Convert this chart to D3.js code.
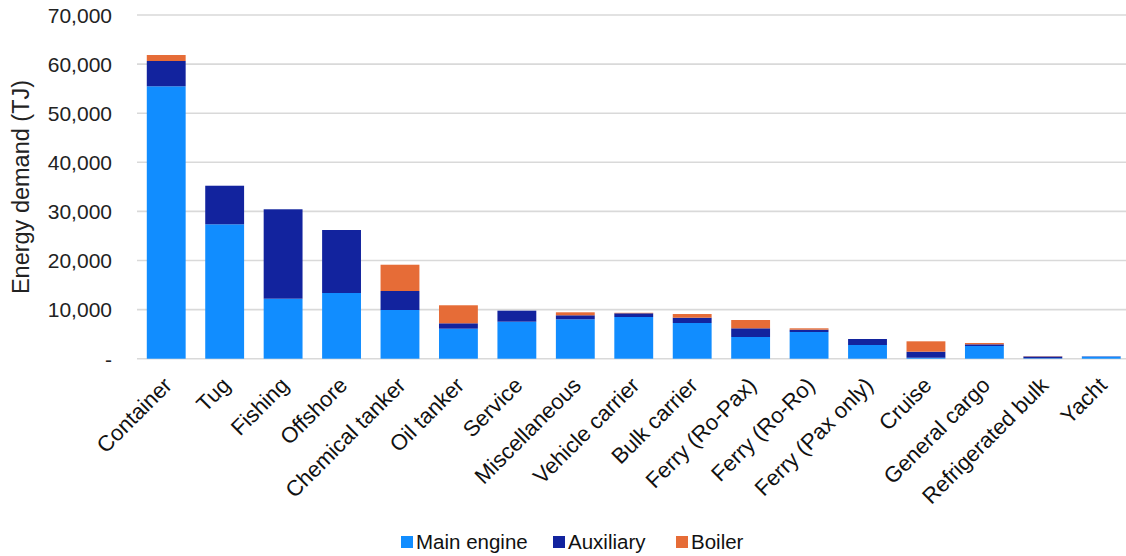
<!DOCTYPE html>
<html><head><meta charset="utf-8">
<script src="https://cdn.jsdelivr.net/npm/d3@7"></script>
<style>
html,body{margin:0;padding:0;background:#fff;}
svg{display:block;font-family:"Liberation Sans",Arial,sans-serif;}
</style></head>
<body><svg id="c" width="1126" height="556"></svg>
<script>
const categories = ["Container","Tug","Fishing","Offshore","Chemical tanker","Oil tanker","Service","Miscellaneous","Vehicle carrier","Bulk carrier","Ferry (Ro-Pax)","Ferry (Ro-Ro)","Ferry (Pax only)","Cruise","General cargo","Refrigerated bulk","Yacht"];
const mainEngine = [55480,27370,12220,13380,9920,6110,7540,8020,8490,7270,4420,5440,2790,200,2590,100,420];
const auxiliary  = [5150,7860,18210,12830,3870,1100,2240,820,760,1080,1770,470,1220,1230,340,350,60];
const boiler     = [1220,0,0,0,5350,3670,0,610,100,750,1690,280,0,2110,270,60,0];
const seriesNames = ["Main engine","Auxiliary","Boiler"];
const yTicks = [0,10000,20000,30000,40000,50000,60000,70000];

const colors = ["#118DFF","#12239E","#E66C37"];
const svg = d3.select("#c");
const x = d3.scaleBand().domain(categories).range([137,1130.5]).paddingInner(0.335).paddingOuter(0.1675);
const y = d3.scaleLinear().domain([0,70000]).range([358.7,15]);

// gridlines
svg.append("g").selectAll("line").data(yTicks).join("line")
  .attr("x1",137).attr("x2",1126)
  .attr("y1",d=>y(d)).attr("y2",d=>y(d))
  .attr("stroke","#d9d9d9").attr("stroke-width",1.6);

// y axis labels
const yAxis = d3.axisLeft(y).tickValues(yTicks).tickSize(0).tickPadding(0)
  .tickFormat(d=> d===0 ? "-" : d3.format(",")(d));
const ya = svg.append("g").attr("transform","translate(112,0)").call(yAxis);
ya.select(".domain").remove();
ya.attr("font-size",null).attr("font-family",null);
ya.selectAll("text").attr("font-size",21).attr("fill","#222").attr("dy","0.35em");

// y title
svg.append("text").attr("transform","translate(29,187) rotate(-90)")
  .attr("text-anchor","middle").attr("font-size",23.5).attr("fill","#222")
  .text("Energy demand (TJ)");

// stacked data
const rows = categories.map((c,i)=>({cat:c,"Main engine":mainEngine[i],"Auxiliary":auxiliary[i],"Boiler":boiler[i]}));
const stack = d3.stack().keys(seriesNames)(rows);
svg.append("g").selectAll("g").data(stack).join("g")
  .attr("fill",(d,i)=>colors[i])
  .selectAll("rect").data(d=>d).join("rect")
  .attr("x",d=>x(d.data.cat))
  .attr("width",x.bandwidth())
  .attr("y",d=>y(d[1]))
  .attr("height",d=>Math.max(0,y(d[0])-y(d[1])));

// x axis labels
const xAxis = d3.axisBottom(x).tickSize(0).tickPadding(0);
const xa = svg.append("g").attr("transform","translate(0,358.7)").call(xAxis);
xa.select(".domain").remove();
xa.attr("font-size",null).attr("font-family",null);
xa.selectAll("text").attr("font-size",22).attr("fill","#111")
  .attr("text-anchor","end").attr("dy",null).attr("y",null)
  .attr("transform","translate(7,28) rotate(-45)");

// legend
const legX = [401,553,676];
const lg = svg.append("g").selectAll("g").data(seriesNames).join("g")
  .attr("transform",(d,i)=>`translate(${legX[i]},542)`);
lg.append("rect").attr("x",0).attr("y",-6).attr("width",12).attr("height",12).attr("fill",(d,i)=>colors[i]);
lg.append("text").attr("x",15).attr("y",0).attr("dy","0.35em").attr("font-size",20.5).attr("fill","#111").text(d=>d);
</script></body></html>
